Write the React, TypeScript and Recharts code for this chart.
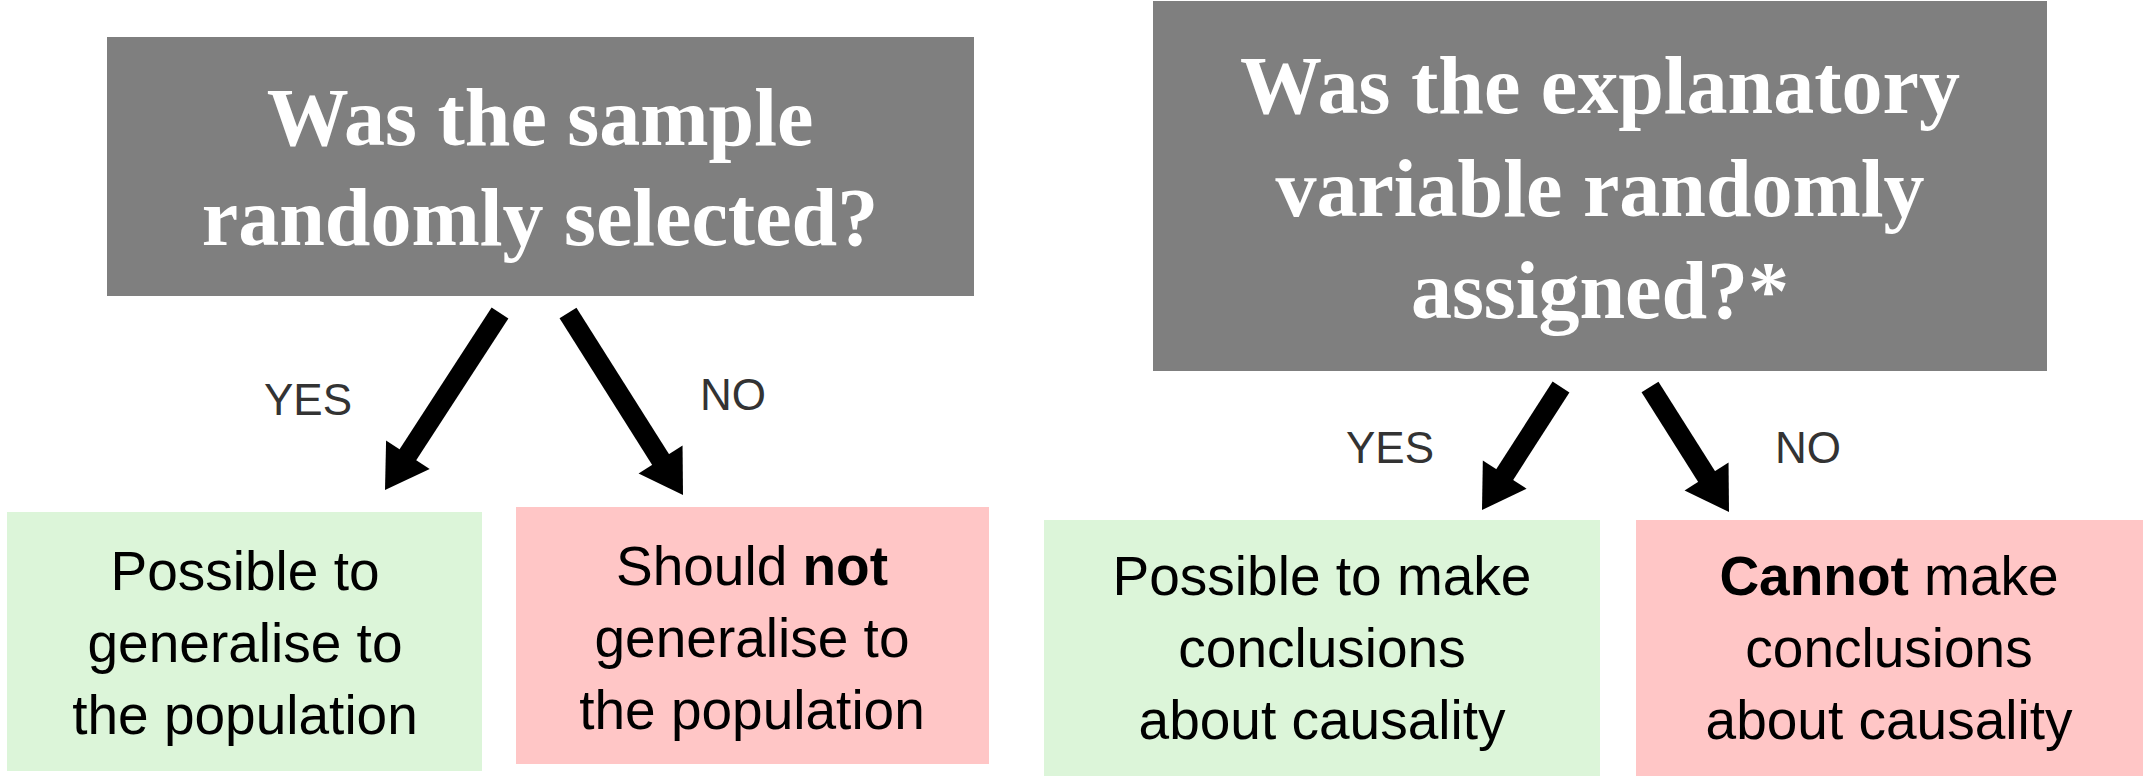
import React from "react";
import { ComposedChart, XAxis, YAxis, ReferenceArea, ReferenceLine, Scatter } from "recharts";

const W = 2146;
const H = 780;

// boxes: [x1, x2, y1, y2, kind]
const boxes = [
  { x1: 107, x2: 974, y1: 37, y2: 296, kind: "q" },
  { x1: 1153, x2: 2047, y1: 1, y2: 371, kind: "q" },
  { x1: 7, x2: 482, y1: 512, y2: 771, kind: "yes" },
  { x1: 516, x2: 989, y1: 507, y2: 764, kind: "no" },
  { x1: 1044, x2: 1600, y1: 520, y2: 776, kind: "yes" },
  { x1: 1636, x2: 2143, y1: 520, y2: 776, kind: "no" },
];

const fills: Record<string, string> = { q: "#7f7f7f", yes: "#dcf5d9", no: "#ffc6c6" };

// text lines: x, y (baseline), segments [text, bold]
const titleLines = [
  { x: 540, y: 145, segs: [["Was the sample", true]] },
  { x: 540, y: 245, segs: [["randomly selected?", true]] },
  { x: 1600, y: 113, segs: [["Was the explanatory", true]] },
  { x: 1600, y: 216, segs: [["variable randomly", true]] },
  { x: 1600, y: 318, segs: [["assigned?*", true]] },
];

const bodyLines = [
  { x: 245, y: 590, segs: [["Possible to", false]] },
  { x: 245, y: 662, segs: [["generalise to", false]] },
  { x: 245, y: 734, segs: [["the population", false]] },
  { x: 752, y: 585, segs: [["Should ", false], ["not", true]] },
  { x: 752, y: 657, segs: [["generalise to", false]] },
  { x: 752, y: 729, segs: [["the population", false]] },
  { x: 1322, y: 595, segs: [["Possible to make", false]] },
  { x: 1322, y: 667, segs: [["conclusions", false]] },
  { x: 1322, y: 739, segs: [["about causality", false]] },
  { x: 1889, y: 595, segs: [["Cannot", true], [" make", false]] },
  { x: 1889, y: 667, segs: [["conclusions", false]] },
  { x: 1889, y: 739, segs: [["about causality", false]] },
];

const answerLabels = [
  { x: 308, y: 415, segs: [["YES", false]] },
  { x: 733, y: 410, segs: [["NO", false]] },
  { x: 1390, y: 463, segs: [["YES", false]] },
  { x: 1808, y: 463, segs: [["NO", false]] },
];

// arrows: from (x0,y0) to tip (x,y)
const arrows = [
  { x0: 500, y0: 313, x: 385, y: 490 },
  { x0: 568, y0: 313, x: 683, y: 495 },
  { x0: 1561, y0: 387, x: 1482, y: 510 },
  { x0: 1650, y0: 387, x: 1729, y: 512 },
];

const makeTextShape = (size: number, family: string, color: string) => (props: any) => {
  const { cx, cy, payload } = props;
  return (
    <text x={cx} y={cy} textAnchor="middle" fontSize={size} fontFamily={family} fill={color}>
      {payload.segs.map((s: any, i: number) => (
        <tspan key={i} fontWeight={s[1] ? "bold" : "normal"}>{s[0]}</tspan>
      ))}
    </text>
  );
};

const arrowHead = (props: any) => {
  const { cx, cy, payload } = props;
  const dx = payload.x - payload.x0;
  const dy = payload.y - payload.y0;
  const L = Math.sqrt(dx * dx + dy * dy);
  const ux = dx / L, uy = dy / L;
  const px = -uy, py = ux;
  const len = 42, half = 26;
  const bx = cx - ux * len, by = cy - uy * len;
  const pts = `${cx},${cy} ${bx + px * half},${by + py * half} ${bx - px * half},${by - py * half}`;
  return <polygon points={pts} fill="#000" />;
};

export default function App() {
  return (
    <div style={{ position: "absolute", left: 0, top: 0, background: "#fff" }}>
      <ComposedChart width={W} height={H} margin={{ top: 0, right: 0, bottom: 0, left: 0 }}>
        <XAxis type="number" dataKey="x" domain={[0, W]} hide allowDataOverflow />
        <YAxis type="number" dataKey="y" domain={[0, H]} reversed hide allowDataOverflow />
        {boxes.map((b, i) => (
          <ReferenceArea key={i} x1={b.x1} x2={b.x2} y1={b.y1} y2={b.y2} fill={fills[b.kind]} fillOpacity={1} stroke="none" ifOverflow="visible" />
        ))}
        {arrows.map((a, i) => {
          const dx = a.x - a.x0, dy = a.y - a.y0;
          const L = Math.sqrt(dx * dx + dy * dy);
          const ex = a.x - (dx / L) * 38, ey = a.y - (dy / L) * 38;
          return (
            <ReferenceLine key={i} segment={[{ x: a.x0, y: a.y0 }, { x: ex, y: ey }]} stroke="#000" strokeWidth={20} ifOverflow="visible" />
          );
        })}
        <Scatter data={arrows} shape={arrowHead} isAnimationActive={false} />
        <Scatter data={titleLines} shape={makeTextShape(82, "'Liberation Serif', serif", "#ffffff")} isAnimationActive={false} />
        <Scatter data={bodyLines} shape={makeTextShape(55, "'Liberation Sans', Arial, sans-serif", "#000000")} isAnimationActive={false} />
        <Scatter data={answerLabels} shape={makeTextShape(44, "'Liberation Sans', Arial, sans-serif", "#333333")} isAnimationActive={false} />
      </ComposedChart>
    </div>
  );
}
